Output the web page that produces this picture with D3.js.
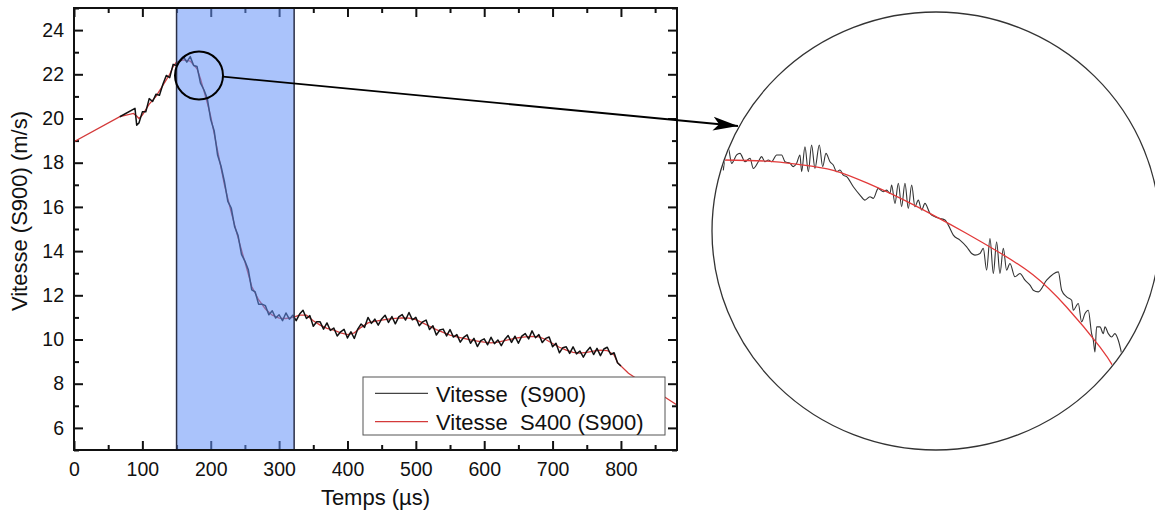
<!DOCTYPE html>
<html><head><meta charset="utf-8">
<script src="https://cdn.jsdelivr.net/npm/d3@7"></script>
<style>
body{margin:0;background:#fff}
svg{display:block}
text{font-family:"Liberation Sans",Arial,Helvetica,sans-serif}
</style>
</head><body>
<svg id="c" width="1155" height="513"></svg>
<script>
// ---------- data ----------
const xTicks = [0,100,200,300,400,500,600,700,800];
const xMinor = [50,150,250,350,450,550,650,750,850];
const yTicks = [6,8,10,12,14,16,18,20,22,24];
const yMinor = [5,7,9,11,13,15,17,19,21,23,25];
const bandRange = [150, 322];

// smoothed series (Vitesse S400)
const redT = [0,67,87,92,95,100,110,120,130,140,145,150,160,170,180,185,190,195,200,210,220,230,240,250,260,270,280,290,300,310,320,330,340,350,360,370,380,390,400,410,420,430,440,450,460,470,480,490,500,510,520,530,540,550,560,570,580,590,600,610,620,630,640,650,660,670,680,690,700,710,720,730,740,750,760,770,780,790,795,811,869,900];
const redV = [18.95,20.08,20.23,20.1,20.0,20.15,20.65,21.0,21.5,22.0,22.35,22.55,22.65,22.6,22.25,21.8,21.25,20.7,20.1,18.55,17.0,15.75,14.6,13.5,12.4,11.8,11.38,11.1,10.97,10.95,11.0,11.1,11.1,10.85,10.65,10.5,10.42,10.3,10.22,10.3,10.55,10.75,10.82,10.88,10.92,10.96,10.98,10.97,10.9,10.75,10.6,10.45,10.32,10.2,10.12,10.05,9.98,9.93,9.88,9.85,9.88,9.95,10.02,10.08,10.12,10.14,10.12,10.0,9.82,9.65,9.52,9.42,9.38,9.42,9.47,9.52,9.5,9.3,8.95,8.47,7.3,6.68];

// raw series (Vitesse S900)
const blackHeadT = [67,89.2,91.7];
const blackHeadV = [20.08,20.46,19.7];
const blackStart = 95, blackStep = 5;
const blackV = [19.8,20.3,20.3,20.9,20.77,21.1,21.05,21.55,21.95,21.85,22.45,22.4,22.65,22.8,22.55,22.8,22.4,22.35,21.6,21.3,20.9,19.95,19.45,18.35,17.85,17.15,16.25,15.95,15.1,14.7,13.85,13.55,13.15,12.25,12.15,11.6,11.6,11.53,11.12,11.3,10.97,
 11.12,10.85,11.2,10.92,11.1,10.85,11.15,11.32,10.95,11.08,10.6,10.8,10.8,10.47,10.75,10.41,10.52,10.16,10.35,10.46,10.07,10.35,10.05,10.47,10.7,10.55,11.0,10.73,10.92,10.65,10.93,11.1,10.77,11.04,10.71,11.02,11.13,10.88,11.22,10.89,11.0,10.62,10.8,10.88,10.45,10.62,10.2,10.43,10.47,10.16,10.45,10.11,10.22,9.88,10.1,10.21,9.83,10.05,9.68,9.95,10.03,9.76,10.1,9.81,9.98,9.72,10.0,10.18,9.87,10.15,9.83,10.15,10.27,10.03,10.39,10.08,10.22,9.86,10.05,10.11,9.67,9.83,9.4,9.63,9.67,9.37,9.67,9.35,9.48,9.2,9.47,9.65,9.32,9.6,9.27,9.57,9.65,9.32,9.4,8.95,8.8];

// magnified inset (zoom of the circled region, 150-200 µs)
const insetRedT = [150,155.6,159.8,164.1,168.4,172.6,176.9,181.2,185.5,189.7,194.0,198.3,200];
const insetRedV = [22.80,22.79,22.76,22.71,22.60,22.47,22.32,22.16,21.99,21.80,21.52,21.17,21.00];
const insetBlackT = [150,150.21,150.64,151.07,151.71,152.14,152.78,153.42,153.85,154.49,154.91,155.34,155.77,156.2,156.84,157.48,157.91,158.55,158.97,159.4,159.83,160.04,160.47,160.9,161.32,161.75,162.31,162.74,163.16,163.68,164.1,164.53,164.96,165.38,165.81,166.67,167.52,168.16,168.8,169.23,169.87,170.51,170.94,171.37,171.58,172.01,172.44,172.86,173.29,173.72,174.15,174.57,175.0,175.43,175.85,176.5,177.14,177.78,178.42,178.85,179.49,180.34,181.2,181.84,182.26,182.91,183.33,183.76,184.19,184.62,185.04,185.47,185.9,186.32,186.75,187.39,188.03,188.68,189.32,189.74,190.38,191.45,192.95,193.38,194.02,194.66,194.87,195.51,195.94,196.37,196.79,197.22,197.44,197.65,197.86,198.29,198.72,198.93,199.36,199.79,200.21,200.64,201.07];
const insetBlackV = [22.71,22.815,22.902,22.771,22.844,22.858,22.785,22.815,22.727,22.785,22.829,22.785,22.8,22.785,22.844,22.844,22.785,22.771,22.742,22.771,22.844,22.698,22.916,22.698,22.931,22.727,22.931,22.742,22.858,22.785,22.756,22.698,22.713,22.669,22.655,22.567,22.495,22.451,22.48,22.466,22.553,22.524,22.538,22.509,22.582,22.422,22.597,22.393,22.597,22.378,22.582,22.393,22.451,22.364,22.422,22.335,22.306,22.291,22.277,22.233,22.146,22.102,22.044,21.986,21.972,21.986,22.03,21.841,22.117,21.812,22.088,21.812,22.03,21.841,21.899,21.783,21.812,21.753,21.71,21.666,21.652,21.753,21.826,21.666,21.608,21.579,21.492,21.55,21.39,21.463,21.492,21.288,21.23,21.128,21.347,21.347,21.288,21.347,21.288,21.259,21.288,21.23,21.114];

const legendLabels = ["Vitesse  (S900)", "Vitesse  S400 (S900)"];
const legendColors = ["#444", "#d43a3a"];

// ---------- drawing ----------
const svg = d3.select("#c");
svg.append("rect").attr("width",1155).attr("height",513).attr("fill","#fff");

const L=74, R=677, T=8, B=450;
const x = d3.scaleLinear().domain([0,882]).range([L,R]);
const y = d3.scaleLinear().domain([5,25]).range([B,T]);

const defs = svg.append("defs");
defs.append("clipPath").attr("id","plotClip").append("rect")
  .attr("x",L).attr("y",T).attr("width",R-L).attr("height",B-T);

// axes ticks (drawn before band so band tints them)
const tickFont = "19.5px";
function styleAxis(g){
  g.select(".domain").remove();
  g.selectAll(".tick line").attr("stroke","#111").attr("stroke-width",2);
  g.selectAll(".tick text").attr("fill","#111").style("font-size",tickFont)
    .style("font-family",'"Liberation Sans",Arial,sans-serif');
}
const xm = xMinor.filter(v=>v<882);
svg.append("g").attr("transform",`translate(0,${B})`)
  .call(d3.axisBottom(x).tickValues(xTicks).tickSizeInner(-9).tickSizeOuter(0).tickPadding(12).tickFormat(d3.format("d")))
  .call(styleAxis);
svg.append("g").attr("transform",`translate(0,${B})`)
  .call(d3.axisBottom(x).tickValues(xm).tickSizeInner(-5).tickSizeOuter(0).tickFormat(""))
  .call(styleAxis);
svg.append("g").attr("transform",`translate(0,${T})`)
  .call(d3.axisTop(x).tickValues(xTicks).tickSizeInner(-9).tickSizeOuter(0).tickFormat(""))
  .call(styleAxis);
svg.append("g").attr("transform",`translate(0,${T})`)
  .call(d3.axisTop(x).tickValues(xm).tickSizeInner(-5).tickSizeOuter(0).tickFormat(""))
  .call(styleAxis);
svg.append("g").attr("transform",`translate(${L},0)`)
  .call(d3.axisLeft(y).tickValues(yTicks).tickSizeInner(-9).tickSizeOuter(0).tickPadding(10).tickFormat(d3.format("d")))
  .call(styleAxis);
svg.append("g").attr("transform",`translate(${L},0)`)
  .call(d3.axisLeft(y).tickValues(yMinor).tickSizeInner(-5).tickSizeOuter(0).tickFormat(""))
  .call(styleAxis);
svg.append("g").attr("transform",`translate(${R},0)`)
  .call(d3.axisRight(y).tickValues(yTicks).tickSizeInner(-9).tickSizeOuter(0).tickFormat(""))
  .call(styleAxis);
svg.append("g").attr("transform",`translate(${R},0)`)
  .call(d3.axisRight(y).tickValues(yMinor).tickSizeInner(-5).tickSizeOuter(0).tickFormat(""))
  .call(styleAxis);

// series
const plotG = svg.append("g").attr("clip-path","url(#plotClip)");
const redData = redT.map((t,i)=>[t,redV[i]]);
const blackData = blackHeadT.map((t,i)=>[t,blackHeadV[i]])
  .concat(blackV.map((v,i)=>[blackStart+i*blackStep, v]));
const line = d3.line().x(d=>x(d[0])).y(d=>y(d[1]));
plotG.append("path").attr("d",line(redData)).attr("fill","none")
  .attr("stroke","#d43a3a").attr("stroke-width",1.3);
plotG.append("path").attr("d",line(blackData)).attr("fill","none")
  .attr("stroke","#111").attr("stroke-width",1.5).attr("stroke-linejoin","round");

// highlighted band (semi-transparent overlay)
svg.append("rect").attr("x",x(bandRange[0])).attr("y",T)
  .attr("width",x(bandRange[1])-x(bandRange[0])).attr("height",B-T)
  .attr("fill","rgb(100,145,248)").attr("fill-opacity",0.55);
bandRange.forEach(v=>{
  svg.append("line").attr("x1",x(v)).attr("x2",x(v)).attr("y1",T).attr("y2",B)
    .attr("stroke","#2a2f45").attr("stroke-width",1.5);
});

// frame
svg.append("rect").attr("x",L).attr("y",T).attr("width",R-L).attr("height",B-T)
  .attr("fill","none").attr("stroke","#111").attr("stroke-width",2);

// axis titles
svg.append("text").attr("x",(L+R)/2).attr("y",505).attr("text-anchor","middle")
  .style("font-size","22px").attr("fill","#111").text("Temps (µs)");
svg.append("text").attr("transform","translate(27,211) rotate(-90)").attr("text-anchor","middle")
  .style("font-size","22px").attr("fill","#111").text("Vitesse (S900) (m/s)");

// legend
const lg = svg.append("g");
lg.append("rect").attr("x",363).attr("y",377).attr("width",302).attr("height",58)
  .attr("fill","#fff").attr("stroke","#555").attr("stroke-width",1);
legendLabels.forEach((lab,i)=>{
  const yy = 393.3 + i*28.4;
  lg.append("line").attr("x1",375).attr("x2",428).attr("y1",yy).attr("y2",yy)
    .attr("stroke",legendColors[i]).attr("stroke-width",1.2);
  lg.append("text").attr("x",436).attr("y",yy+8.4).attr("xml:space","preserve")
    .style("white-space","pre").style("font-size","22px").attr("fill","#111").text(lab);
});

// small circle + arrow
defs.append("marker").attr("id","arr").attr("viewBox","0 -8 26 16")
  .attr("refX",25).attr("refY",0).attr("markerWidth",26).attr("markerHeight",16)
  .attr("markerUnits","userSpaceOnUse").attr("orient","auto")
  .append("path").attr("d","M0,-7 L25,0 L0,7 L6,0 Z").attr("fill","#000");
svg.append("circle").attr("cx",199).attr("cy",75.5).attr("r",24)
  .attr("fill","none").attr("stroke","#000").attr("stroke-width",2);
svg.append("line").attr("x1",223).attr("y1",76.7).attr("x2",738).attr("y2",126)
  .attr("stroke","#000").attr("stroke-width",1.8).attr("marker-end","url(#arr)");

// inset ellipse with magnified data
const ecx=936, ecy=231, erx=224, ery=219;
defs.append("clipPath").attr("id","insetClip").append("ellipse")
  .attr("cx",ecx).attr("cy",ecy).attr("rx",erx-1).attr("ry",ery-1);
const xi = d3.scaleLinear().domain([150,200]).range([723.3,1113.3]);
const yi = d3.scaleLinear().domain([22.8,21.0]).range([160,366.7]);
const ig = svg.append("g").attr("clip-path","url(#insetClip)");
ig.append("path").attr("d",d3.line().x(d=>xi(d[0])).y(d=>yi(d[1])).curve(d3.curveMonotoneX)(insetBlackT.map((t,i)=>[t,insetBlackV[i]])))
  .attr("fill","none").attr("stroke","#333").attr("stroke-width",1.1);
ig.append("path").attr("d",d3.line().x(d=>xi(d[0])).y(d=>yi(d[1])).curve(d3.curveNatural)(insetRedT.map((t,i)=>[t,insetRedV[i]])))
  .attr("fill","none").attr("stroke","#e23a3a").attr("stroke-width",1.3);
svg.append("ellipse").attr("cx",ecx).attr("cy",ecy).attr("rx",erx).attr("ry",ery)
  .attr("fill","none").attr("stroke","#333").attr("stroke-width",1.3);
</script>
</body></html>
